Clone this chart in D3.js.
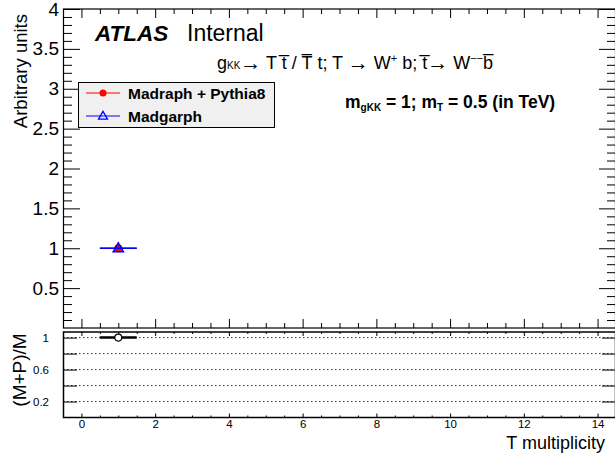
<!DOCTYPE html>
<html>
<head>
<meta charset="utf-8">
<script src="https://cdn.jsdelivr.net/npm/d3@7"></script>
<style>
  body { margin: 0; background: #fff; }
  svg { display: block; font-family: "Liberation Sans", Arial, Helvetica, sans-serif; }
</style>
</head>
<body>
<div class="container"></div>
<script>
// data
let bins = [1];
let binHalfWidth = [0.5];
let madPythia = [1];
let madgraph = [1];
let ratio = [1];

let xMajor = [0, 2, 4, 6, 8, 10, 12, 14];
let topYMajor = [0.5, 1, 1.5, 2, 2.5, 3, 3.5, 4];
let ratioYMajor = [0.2, 0.4, 0.6, 0.8, 1];
let ratioYLabels = [0.2, 0.6, 1];

let legendNames = ["Madraph + Pythia8", "Madgarph"];

let W = 615, H = 456;

let svg = d3.select(".container")
    .append("svg")
    .attr("width", W)
    .attr("height", H);

let x = d3.scaleLinear().domain([-0.5, 14.5]).range([63, 616]);
let yTop = d3.scaleLinear().domain([0, 4]).range([328, 9]);
let yRat = d3.scaleLinear().domain([0, 1.07]).range([417.5, 332]);

let xMinor = d3.range(-0.5, 14.51, 0.5).filter(v => xMajor.indexOf(v) < 0);
let topYMinor = d3.range(0.1, 3.95, 0.1).filter(v => !topYMajor.some(m => Math.abs(m - v) < 1e-6));

const clean = g => {
    g.select(".domain").remove();
    g.selectAll("line").attr("stroke", "#000").attr("stroke-width", 1);
};

// ---------- top panel ----------
let topPanel = svg.append("g");

// left axis
topPanel.append("g")
    .attr("transform", "translate(63,0)")
    .call(d3.axisLeft(yTop).tickValues(topYMajor).tickSize(-17).tickPadding(4)
        .tickFormat(d => d))
    .call(clean)
    .call(g => g.selectAll("text").attr("font-size", 19).attr("fill", "#000")
        .attr("font-family", "Liberation Sans, Arial, sans-serif"));
topPanel.append("g")
    .attr("transform", "translate(63,0)")
    .call(d3.axisLeft(yTop).tickValues(topYMinor).tickSize(-9).tickFormat(""))
    .call(clean);
// right axis
topPanel.append("g")
    .attr("transform", "translate(616,0)")
    .call(d3.axisRight(yTop).tickValues(topYMajor).tickSize(-17).tickFormat(""))
    .call(clean);
topPanel.append("g")
    .attr("transform", "translate(616,0)")
    .call(d3.axisRight(yTop).tickValues(topYMinor).tickSize(-9).tickFormat(""))
    .call(clean);
// bottom / top x ticks
[[328, "bottom"], [9, "top"]].forEach(p => {
    let ax = p[1] == "bottom" ? d3.axisBottom : d3.axisTop;
    topPanel.append("g")
        .attr("transform", "translate(0," + p[0] + ")")
        .call(ax(x).tickValues(xMajor).tickSize(-9).tickFormat(""))
        .call(clean);
    topPanel.append("g")
        .attr("transform", "translate(0," + p[0] + ")")
        .call(ax(x).tickValues(xMinor).tickSize(-5).tickFormat(""))
        .call(clean);
});

topPanel.append("rect")
    .attr("x", 63.5).attr("y", 9)
    .attr("width", 552).attr("height", 319)
    .attr("fill", "none").attr("stroke", "#000").attr("stroke-width", 1.2);

// y title
topPanel.append("text")
    .attr("transform", "translate(27,14) rotate(-90)")
    .attr("text-anchor", "end")
    .attr("font-size", 18.5)
    .text("Arbitrary units");

// series: Madraph + Pythia8 (red dots)
let gRed = topPanel.append("g");
gRed.selectAll("line")
    .data(bins)
    .enter()
    .append("line")
    .attr("x1", (d, i) => x(d - binHalfWidth[i]))
    .attr("x2", (d, i) => x(d + binHalfWidth[i]))
    .attr("y1", (d, i) => yTop(madPythia[i]))
    .attr("y2", (d, i) => yTop(madPythia[i]))
    .attr("stroke", "#ff0000").attr("stroke-width", 1.5);
gRed.selectAll("circle")
    .data(bins)
    .enter()
    .append("circle")
    .attr("cx", d => x(d))
    .attr("cy", (d, i) => yTop(madPythia[i]))
    .attr("r", 4)
    .attr("fill", "#ff0000");

// series: Madgarph (blue open triangles)
let tri = d3.symbol().type(d3.symbolTriangle).size(45);
let gBlue = topPanel.append("g");
gBlue.selectAll("line")
    .data(bins)
    .enter()
    .append("line")
    .attr("x1", (d, i) => x(d - binHalfWidth[i]))
    .attr("x2", (d, i) => x(d + binHalfWidth[i]))
    .attr("y1", (d, i) => yTop(madgraph[i]))
    .attr("y2", (d, i) => yTop(madgraph[i]))
    .attr("stroke", "#0000ff").attr("stroke-width", 1.5);
gBlue.selectAll("path")
    .data(bins)
    .enter()
    .append("path")
    .attr("d", tri)
    .attr("transform", (d, i) => "translate(" + x(d) + "," + (yTop(madgraph[i]) + 0.5) + ")")
    .attr("fill", "none")
    .attr("stroke", "#0000ff").attr("stroke-width", 1.5);

// ATLAS label
let lab = topPanel.append("text")
    .attr("x", 95).attr("y", 41)
    .attr("font-size", 22.5);
lab.append("tspan").attr("font-weight", "bold").attr("font-style", "italic").text("ATLAS");
lab.append("tspan").attr("x", 187).attr("font-size", 23).text("Internal");

// process text
let proc = topPanel.append("text")
    .attr("x", 217).attr("y", 69)
    .attr("font-size", 18);
proc.append("tspan").text("g");
proc.append("tspan").attr("font-size", 10).text("KK");
proc.append("tspan").attr("font-size", 21).attr("dy", 1).text("\u2192");
proc.append("tspan").attr("dy", -1).text(" T t\u0305 / T\u0305 t; T ");
proc.append("tspan").attr("font-size", 21).attr("dy", 1).text("\u2192");
proc.append("tspan").attr("dy", -1).text(" W");
proc.append("tspan").attr("font-size", 11).attr("dy", -7).text("+");
proc.append("tspan").attr("dy", 7).text(" b; t\u0305");
proc.append("tspan").attr("font-size", 21).attr("dy", 1).text("\u2192");
proc.append("tspan").attr("dy", -1).text(" W");
proc.append("tspan").attr("font-size", 11).attr("dy", -7).text("\u2212\u2212");
proc.append("tspan").attr("dy", 7).text("b\u0305");

// mass text
let mass = topPanel.append("text")
    .attr("x", 345).attr("y", 108)
    .attr("font-size", 17.5).attr("font-weight", "bold");
mass.append("tspan").text("m");
mass.append("tspan").attr("font-size", 10).attr("dy", 3).text("gKK");
mass.append("tspan").attr("dy", -3).text(" = 1; m");
mass.append("tspan").attr("font-size", 10).attr("dy", 3).text("T");
mass.append("tspan").attr("dy", -3).text(" = 0.5 (in TeV)");

// legend
let leg = topPanel.append("g");
leg.append("rect")
    .attr("x", 78.5).attr("y", 82.5)
    .attr("width", 196).attr("height", 45)
    .attr("fill", "#f0f0f0").attr("stroke", "#000");
let legColors = ["#ff0000", "#0000ff"];
let rows = leg.selectAll(".row")
    .data(legendNames)
    .enter()
    .append("g")
    .attr("class", "row")
    .attr("transform", (d, i) => "translate(0," + (93 + i * 23) + ")");
rows.append("line")
    .attr("x1", 86).attr("x2", 120)
    .attr("stroke", (d, i) => legColors[i]).attr("stroke-width", 1.2);
rows.filter((d, i) => i == 0).append("circle")
    .attr("cx", 103).attr("r", 3.5).attr("fill", "#ff0000");
rows.filter((d, i) => i == 1).append("path")
    .attr("d", d3.symbol().type(d3.symbolTriangle).size(35))
    .attr("transform", "translate(103,0.5)")
    .attr("fill", "none").attr("stroke", "#0000ff").attr("stroke-width", 1.3);
rows.append("text")
    .attr("x", 128).attr("y", 5.5)
    .attr("font-size", 15.5).attr("font-weight", "bold")
    .text(d => d);

// ---------- ratio panel ----------
let bot = svg.append("g");

bot.selectAll(".grid")
    .data(ratioYMajor)
    .enter()
    .append("line")
    .attr("class", "grid")
    .attr("x1", 63).attr("x2", 616)
    .attr("y1", d => yRat(d)).attr("y2", d => yRat(d))
    .attr("stroke", "#333").attr("stroke-width", 1)
    .attr("stroke-dasharray", "1.5,2.5");

bot.append("g")
    .attr("transform", "translate(63,0)")
    .call(d3.axisLeft(yRat).tickValues(ratioYMajor).tickSize(-14).tickPadding(14)
        .tickFormat(d => ratioYLabels.indexOf(d) >= 0 ? d : ""))
    .call(clean)
    .call(g => g.selectAll("text").attr("font-size", 11.5).attr("fill", "#000")
        .attr("font-family", "Liberation Sans, Arial, sans-serif"));
bot.append("g")
    .attr("transform", "translate(616,0)")
    .call(d3.axisRight(yRat).tickValues(ratioYMajor).tickSize(-14).tickFormat(""))
    .call(clean);

bot.append("g")
    .attr("transform", "translate(0,417.5)")
    .call(d3.axisBottom(x).tickValues(xMajor).tickSize(-4).tickPadding(2))
    .call(clean)
    .call(g => g.selectAll("text").attr("font-size", 11.5).attr("fill", "#000")
        .attr("font-family", "Liberation Sans, Arial, sans-serif"));
bot.append("g")
    .attr("transform", "translate(0,417.5)")
    .call(d3.axisBottom(x).tickValues(xMinor).tickSize(-2).tickFormat(""))
    .call(clean);
bot.append("g")
    .attr("transform", "translate(0,332)")
    .call(d3.axisTop(x).tickValues(xMajor).tickSize(-4).tickFormat(""))
    .call(clean);
bot.append("g")
    .attr("transform", "translate(0,332)")
    .call(d3.axisTop(x).tickValues(xMinor).tickSize(-2).tickFormat(""))
    .call(clean);

bot.append("rect")
    .attr("x", 63.5).attr("y", 332)
    .attr("width", 552).attr("height", 85.5)
    .attr("fill", "none").attr("stroke", "#000").attr("stroke-width", 1.5);

// ratio points
bot.selectAll(".rbar")
    .data(bins)
    .enter()
    .append("line")
    .attr("class", "rbar")
    .attr("x1", (d, i) => x(d - binHalfWidth[i]))
    .attr("x2", (d, i) => x(d + binHalfWidth[i]))
    .attr("y1", (d, i) => yRat(ratio[i]))
    .attr("y2", (d, i) => yRat(ratio[i]))
    .attr("stroke", "#000").attr("stroke-width", 2.5);
bot.selectAll(".rpt")
    .data(bins)
    .enter()
    .append("circle")
    .attr("class", "rpt")
    .attr("cx", d => x(d))
    .attr("cy", (d, i) => yRat(ratio[i]))
    .attr("r", 3.5)
    .attr("fill", "#fff").attr("stroke", "#000").attr("stroke-width", 1.2);

bot.append("text")
    .attr("transform", "translate(26,370) rotate(-90)")
    .attr("text-anchor", "middle")
    .attr("font-size", 19)
    .text("(M+P)/M");

bot.append("text")
    .attr("x", 605).attr("y", 449)
    .attr("text-anchor", "end")
    .attr("font-size", 18)
    .text("T multiplicity");
</script>
</body>
</html>
